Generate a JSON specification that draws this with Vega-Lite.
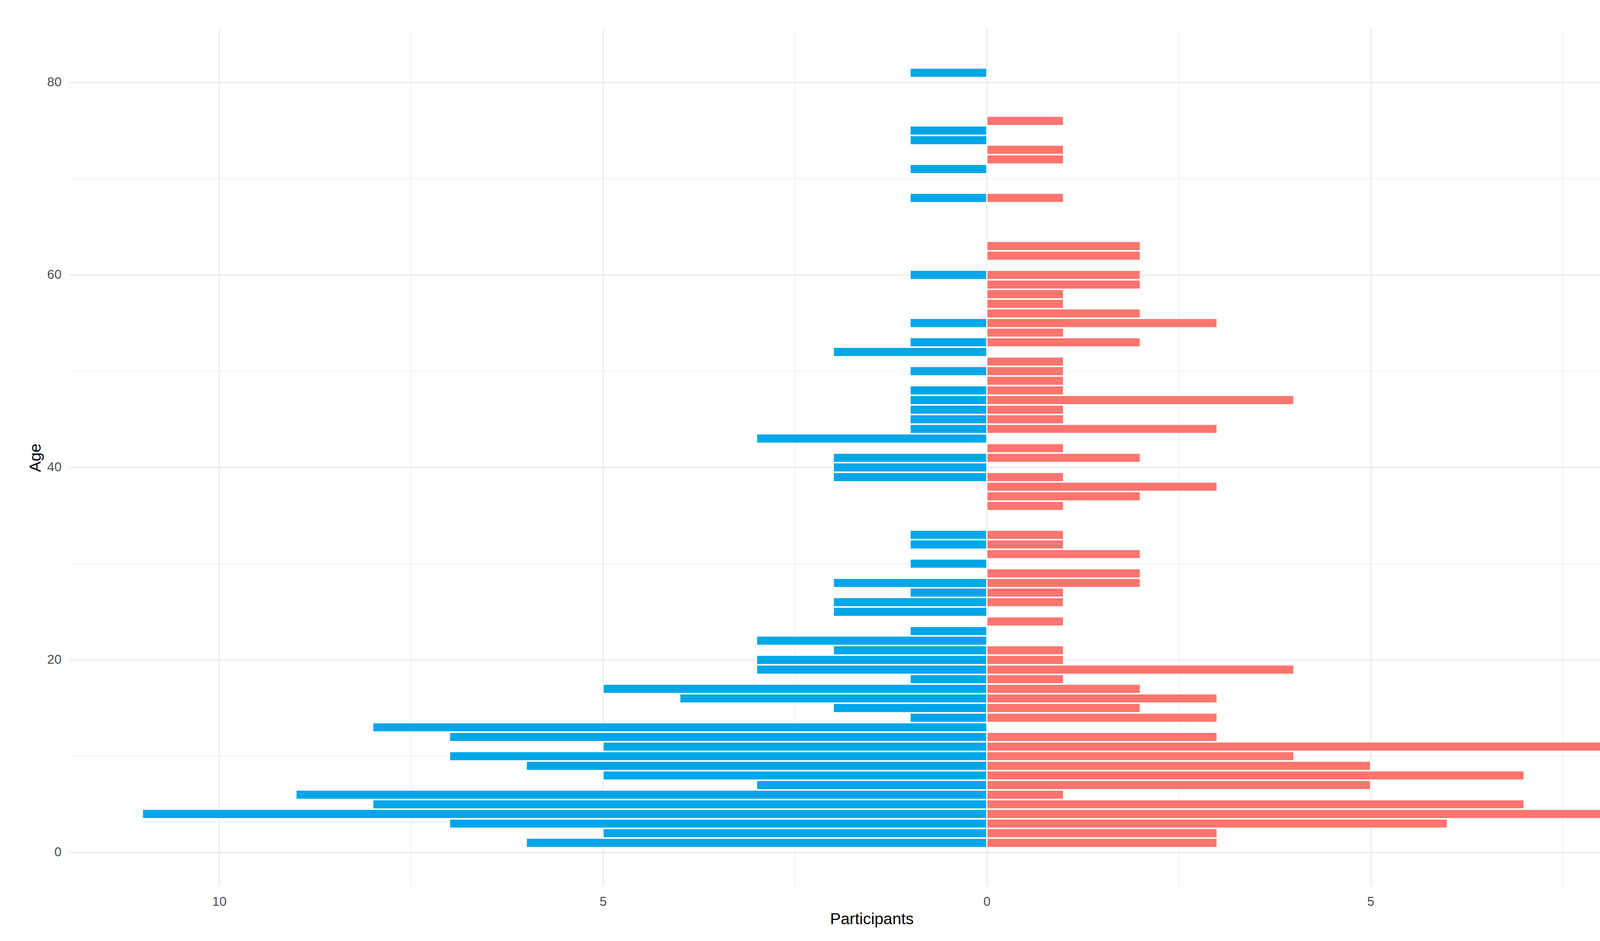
{
  "$schema": "https://vega.github.io/schema/vega-lite/v6.json",
  "autosize": {"type": "none"},
  "width": 4107,
  "height": 2194,
  "padding": {"left": 178, "top": 75, "right": 77, "bottom": 141},
  "background": "white",
  "config": {
    "view": {"stroke": null},
    "font": "Liberation Sans"
  },
  "data": {
    "values": [
      {"age": 81, "group": "male", "n": -1},
      {"age": 75, "group": "male", "n": -1},
      {"age": 74, "group": "male", "n": -1},
      {"age": 71, "group": "male", "n": -1},
      {"age": 68, "group": "male", "n": -1},
      {"age": 60, "group": "male", "n": -1},
      {"age": 55, "group": "male", "n": -1},
      {"age": 53, "group": "male", "n": -1},
      {"age": 52, "group": "male", "n": -2},
      {"age": 50, "group": "male", "n": -1},
      {"age": 48, "group": "male", "n": -1},
      {"age": 47, "group": "male", "n": -1},
      {"age": 46, "group": "male", "n": -1},
      {"age": 45, "group": "male", "n": -1},
      {"age": 44, "group": "male", "n": -1},
      {"age": 43, "group": "male", "n": -3},
      {"age": 41, "group": "male", "n": -2},
      {"age": 40, "group": "male", "n": -2},
      {"age": 39, "group": "male", "n": -2},
      {"age": 33, "group": "male", "n": -1},
      {"age": 32, "group": "male", "n": -1},
      {"age": 30, "group": "male", "n": -1},
      {"age": 28, "group": "male", "n": -2},
      {"age": 27, "group": "male", "n": -1},
      {"age": 26, "group": "male", "n": -2},
      {"age": 25, "group": "male", "n": -2},
      {"age": 23, "group": "male", "n": -1},
      {"age": 22, "group": "male", "n": -3},
      {"age": 21, "group": "male", "n": -2},
      {"age": 20, "group": "male", "n": -3},
      {"age": 19, "group": "male", "n": -3},
      {"age": 18, "group": "male", "n": -1},
      {"age": 17, "group": "male", "n": -5},
      {"age": 16, "group": "male", "n": -4},
      {"age": 15, "group": "male", "n": -2},
      {"age": 14, "group": "male", "n": -1},
      {"age": 13, "group": "male", "n": -8},
      {"age": 12, "group": "male", "n": -7},
      {"age": 11, "group": "male", "n": -5},
      {"age": 10, "group": "male", "n": -7},
      {"age": 9, "group": "male", "n": -6},
      {"age": 8, "group": "male", "n": -5},
      {"age": 7, "group": "male", "n": -3},
      {"age": 6, "group": "male", "n": -9},
      {"age": 5, "group": "male", "n": -8},
      {"age": 4, "group": "male", "n": -11},
      {"age": 3, "group": "male", "n": -7},
      {"age": 2, "group": "male", "n": -5},
      {"age": 1, "group": "male", "n": -6},
      {"age": 76, "group": "female", "n": 1},
      {"age": 73, "group": "female", "n": 1},
      {"age": 72, "group": "female", "n": 1},
      {"age": 68, "group": "female", "n": 1},
      {"age": 63, "group": "female", "n": 2},
      {"age": 62, "group": "female", "n": 2},
      {"age": 60, "group": "female", "n": 2},
      {"age": 59, "group": "female", "n": 2},
      {"age": 58, "group": "female", "n": 1},
      {"age": 57, "group": "female", "n": 1},
      {"age": 56, "group": "female", "n": 2},
      {"age": 55, "group": "female", "n": 3},
      {"age": 54, "group": "female", "n": 1},
      {"age": 53, "group": "female", "n": 2},
      {"age": 51, "group": "female", "n": 1},
      {"age": 50, "group": "female", "n": 1},
      {"age": 49, "group": "female", "n": 1},
      {"age": 48, "group": "female", "n": 1},
      {"age": 47, "group": "female", "n": 4},
      {"age": 46, "group": "female", "n": 1},
      {"age": 45, "group": "female", "n": 1},
      {"age": 44, "group": "female", "n": 3},
      {"age": 42, "group": "female", "n": 1},
      {"age": 41, "group": "female", "n": 2},
      {"age": 39, "group": "female", "n": 1},
      {"age": 38, "group": "female", "n": 3},
      {"age": 37, "group": "female", "n": 2},
      {"age": 36, "group": "female", "n": 1},
      {"age": 33, "group": "female", "n": 1},
      {"age": 32, "group": "female", "n": 1},
      {"age": 31, "group": "female", "n": 2},
      {"age": 29, "group": "female", "n": 2},
      {"age": 28, "group": "female", "n": 2},
      {"age": 27, "group": "female", "n": 1},
      {"age": 26, "group": "female", "n": 1},
      {"age": 24, "group": "female", "n": 1},
      {"age": 21, "group": "female", "n": 1},
      {"age": 20, "group": "female", "n": 1},
      {"age": 19, "group": "female", "n": 4},
      {"age": 18, "group": "female", "n": 1},
      {"age": 17, "group": "female", "n": 2},
      {"age": 16, "group": "female", "n": 3},
      {"age": 15, "group": "female", "n": 2},
      {"age": 14, "group": "female", "n": 3},
      {"age": 12, "group": "female", "n": 3},
      {"age": 11, "group": "female", "n": 8},
      {"age": 10, "group": "female", "n": 4},
      {"age": 9, "group": "female", "n": 5},
      {"age": 8, "group": "female", "n": 7},
      {"age": 7, "group": "female", "n": 5},
      {"age": 6, "group": "female", "n": 1},
      {"age": 5, "group": "female", "n": 7},
      {"age": 4, "group": "female", "n": 8},
      {"age": 3, "group": "female", "n": 6},
      {"age": 2, "group": "female", "n": 3},
      {"age": 1, "group": "female", "n": 3}
    ]
  },
  "mark": {"type": "bar", "stroke": "white", "strokeWidth": 3},
  "encoding": {
    "x": {
      "field": "n",
      "type": "quantitative",
      "stack": null,
      "scale": {"domain": [-11.95, 8.95], "nice": false, "zero": false},
      "axis": {
        "title": "Participants",
        "values": [-10, -7.5, -5, -2.5, 0, 2.5, 5, 7.5],
        "labelExpr": "datum.value % 5 == 0 ? format(abs(datum.value), 'd') : ''",
        "domain": false,
        "ticks": false,
        "labelPadding": 24,
        "labelFont": "Liberation Sans",
        "labelFontSize": 33,
        "labelColor": "#4D4D4D",
        "titleFont": "Liberation Sans",
        "titleFontSize": 41,
        "titleFontWeight": "normal",
        "titleColor": "#000000",
        "titlePadding": 8,
        "grid": true,
        "gridColor": "#EBEBEB",
        "gridWidth": {"condition": {"test": "datum.value % 5 != 0", "value": 1.5}, "value": 3}
      }
    },
    "y": {
      "field": "age",
      "type": "quantitative",
      "bin": {"step": 1, "anchor": 0.5, "extent": [0, 82]},
      "scale": {"domain": [-3.5, 85.5], "nice": false, "zero": false},
      "axis": {
        "title": "Age",
        "values": [0, 10, 20, 30, 40, 50, 60, 70, 80],
        "labelExpr": "datum.value % 20 == 0 ? format(datum.value, 'd') : ''",
        "domain": false,
        "ticks": false,
        "labelPadding": 21,
        "labelFont": "Liberation Sans",
        "labelFontSize": 33,
        "labelColor": "#4D4D4D",
        "titleFont": "Liberation Sans",
        "titleFontSize": 41,
        "titleFontWeight": "normal",
        "titleColor": "#000000",
        "titlePadding": 8,
        "grid": true,
        "gridColor": "#EBEBEB",
        "gridWidth": {"condition": {"test": "datum.value % 20 != 0", "value": 1.5}, "value": 3}
      }
    },
    "color": {
      "field": "group",
      "type": "nominal",
      "scale": {"domain": ["male", "female"], "range": ["#00A6E8", "#FD756E"]},
      "legend": null
    }
  }
}
